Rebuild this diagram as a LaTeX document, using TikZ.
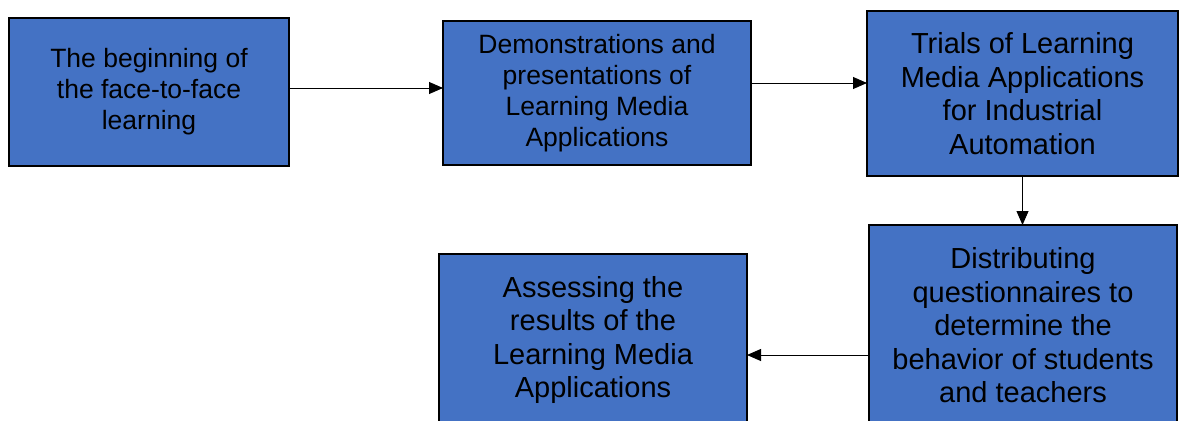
\documentclass[tikz,border=0pt]{standalone}
\usepackage{fontspec}
\setmainfont{Liberation Sans}
\usetikzlibrary{arrows.meta}
\definecolor{boxblue}{HTML}{4472C4}
\begin{document}
\begin{tikzpicture}[x=1pt,y=-1pt,
  box/.style={draw=black, line width=1.8pt, fill=boxblue, inner sep=0pt, outer sep=0pt, align=center, text=black},
  smalltext/.style={font=\fontsize{26.5}{31}\selectfont},
  bigtext/.style={font=\fontsize{29}{33.5}\selectfont},
  arr/.style={line width=0.9pt, -{Triangle[length=14pt,width=12pt]}}]
\clip (0,0) rectangle (1182,420);
\useasboundingbox (0,0) rectangle (1182,420);
\fill[white] (0,0) rectangle (1182,420);
\node[box, smalltext, minimum width=280pt, minimum height=148pt] (b1) at (149,92)
  {The beginning of\\the face-to-face\\learning};
\node[box, smalltext, minimum width=308pt, minimum height=144pt] (b2) at (597,93)
  {Demonstrations and\\presentations of\\Learning Media\\Applications};
\node[box, bigtext, minimum width=311pt, minimum height=165pt] (b3) at (1022.5,93.5)
  {Trials of Learning\\Media Applications\\for Industrial\\Automation};
\node[box, bigtext, minimum width=308pt, minimum height=201pt] (b4) at (1023,325.5)
  {Distributing\\questionnaires to\\determine the\\behavior of students\\and teachers};
\node[box, bigtext, minimum width=308pt, minimum height=172pt] (b5) at (593,340)
  {Assessing the\\results of the\\Learning Media\\Applications};
\draw[arr] ([yshift=4pt]b1.east) -- ([yshift=4pt]b1.east -| b2.west);
\draw[arr] ([yshift=10pt]b2.east) -- ([yshift=10pt]b2.east -| b3.west);
\draw[arr] (b3.south) -- (b3.south |- b4.north);
\draw[arr] ([yshift=-29.5pt]b4.west) -- ([yshift=-29.5pt]b4.west -| b5.east);
\end{tikzpicture}
\end{document}
